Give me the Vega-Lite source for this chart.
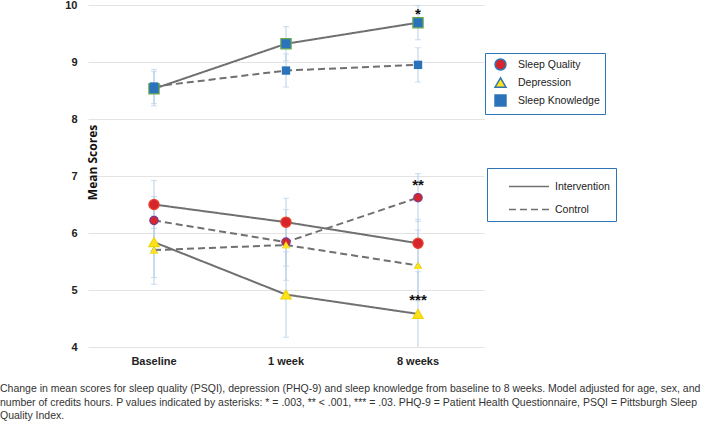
{
  "$schema": "https://vega.github.io/schema/vega-lite/v6.json",
  "width": 396,
  "height": 342,
  "autosize": {"type": "none"},
  "padding": {"left": 88, "top": 5, "right": 219, "bottom": 75},
  "background": "white",
  "title": {
    "text": [
      "Change in mean scores for sleep quality (PSQI), depression (PHQ-9) and sleep knowledge from baseline to 8 weeks. Model adjusted for age, sex, and",
      "number of credits hours. P values indicated by asterisks: * = .003, ** < .001, *** = .03. PHQ-9 = Patient Health Questionnaire, PSQI = Pittsburgh Sleep",
      "Quality Index."
    ],
    "orient": "bottom",
    "anchor": "start",
    "frame": "group",
    "dx": -88,
    "offset": 18,
    "font": "Liberation Sans",
    "fontSize": 10.5,
    "fontWeight": "normal",
    "color": "#333333",
    "lineHeight": 13.5
  },
  "datasets": {
    "scores": [
      {"measure": "Sleep Quality", "group": "Intervention", "time": "Baseline", "mean": 6.50, "lo": 6.08, "hi": 6.92},
      {"measure": "Sleep Quality", "group": "Intervention", "time": "1 week", "mean": 6.19, "lo": 5.77, "hi": 6.61},
      {"measure": "Sleep Quality", "group": "Intervention", "time": "8 weeks", "mean": 5.82, "lo": 5.40, "hi": 6.24},
      {"measure": "Sleep Quality", "group": "Control", "time": "Baseline", "mean": 6.22, "lo": 5.80, "hi": 6.64},
      {"measure": "Sleep Quality", "group": "Control", "time": "1 week", "mean": 5.84, "lo": 5.42, "hi": 6.26},
      {"measure": "Sleep Quality", "group": "Control", "time": "8 weeks", "mean": 6.62, "lo": 6.20, "hi": 7.04},
      {"measure": "Depression", "group": "Intervention", "time": "Baseline", "mean": 5.84, "lo": 5.22, "hi": 6.46},
      {"measure": "Depression", "group": "Intervention", "time": "1 week", "mean": 4.92, "lo": 4.17, "hi": 5.67},
      {"measure": "Depression", "group": "Intervention", "time": "8 weeks", "mean": 4.58, "lo": 3.84, "hi": 5.32},
      {"measure": "Depression", "group": "Control", "time": "Baseline", "mean": 5.70, "lo": 5.10, "hi": 6.30},
      {"measure": "Depression", "group": "Control", "time": "1 week", "mean": 5.79, "lo": 5.17, "hi": 6.41},
      {"measure": "Depression", "group": "Control", "time": "8 weeks", "mean": 5.43, "lo": 4.81, "hi": 6.05},
      {"measure": "Sleep Knowledge", "group": "Intervention", "time": "Baseline", "mean": 8.53, "lo": 8.23, "hi": 8.83},
      {"measure": "Sleep Knowledge", "group": "Intervention", "time": "1 week", "mean": 9.32, "lo": 9.02, "hi": 9.62},
      {"measure": "Sleep Knowledge", "group": "Intervention", "time": "8 weeks", "mean": 9.69, "lo": 9.39, "hi": 9.99},
      {"measure": "Sleep Knowledge", "group": "Control", "time": "Baseline", "mean": 8.57, "lo": 8.27, "hi": 8.87},
      {"measure": "Sleep Knowledge", "group": "Control", "time": "1 week", "mean": 8.85, "lo": 8.56, "hi": 9.14},
      {"measure": "Sleep Knowledge", "group": "Control", "time": "8 weeks", "mean": 8.95, "lo": 8.65, "hi": 9.25}
    ],
    "stars": [
      {"time": "8 weeks", "value": 9.9, "label": "*"},
      {"time": "8 weeks", "value": 6.9, "label": "**"},
      {"time": "8 weeks", "value": 4.88, "label": "***"}
    ]
  },
  "encoding": {
    "x": {"field": "time", "type": "ordinal", "sort": ["Baseline", "1 week", "8 weeks"], "title": null}
  },
  "layer": [
    {
      "data": {"name": "scores"},
      "mark": {"type": "rule", "color": "#b8cfe8", "strokeWidth": 1, "clip": true},
      "encoding": {
        "y": {"field": "lo", "type": "quantitative", "title": "Mean Scores", "scale": {"domain": [4, 10], "nice": false, "zero": false}, "axis": {"values": [4, 5, 6, 7, 8, 9, 10], "format": "d"}},
        "y2": {"field": "hi"}
      }
    },
    {
      "data": {"name": "scores"},
      "mark": {"type": "tick", "color": "#b8cfe8", "thickness": 1, "size": 6, "clip": true},
      "encoding": {
        "y": {"field": "lo", "type": "quantitative", "title": "Mean Scores"}
      }
    },
    {
      "data": {"name": "scores"},
      "mark": {"type": "tick", "color": "#b8cfe8", "thickness": 1, "size": 6, "clip": true},
      "encoding": {
        "y": {"field": "hi", "type": "quantitative", "title": "Mean Scores"}
      }
    },
    {
      "data": {"name": "scores"},
      "mark": {"type": "line", "color": "#707070", "strokeWidth": 2},
      "encoding": {
        "y": {"field": "mean", "type": "quantitative", "title": "Mean Scores"},
        "detail": {"field": "measure"},
        "strokeDash": {
          "field": "group",
          "type": "nominal",
          "scale": {"domain": ["Intervention", "Control"], "range": [[1, 0], [7, 4]]},
          "legend": {
            "title": null,
            "orient": "none",
            "legendX": 399,
            "legendY": 163,
            "padding": 6,
            "strokeColor": "#2e75b6",
            "fillColor": "white",
            "symbolType": "M0.3,0H3.78",
            "symbolSize": 529,
            "symbolStrokeWidth": 1.5,
            "labelOffset": 37,
            "rowPadding": 5,
            "labelExpr": "datum.label + '            '",
            "labelFont": "Liberation Sans",
            "labelFontSize": 10.5,
            "labelColor": "#222222",
            "encode": {"legend": {"strokeWidth": {"value": 2}}}
          }
        }
      }
    },
    {
      "data": {"name": "scores"},
      "mark": {"type": "point", "filled": true, "size": 30, "stroke": "#2e75b6", "strokeWidth": 1.5, "strokeJoin": "round", "opacity": 1},
      "encoding": {
        "y": {"field": "mean", "type": "quantitative", "title": "Mean Scores"},
        "shape": {
          "field": "measure", "type": "nominal",
          "scale": {"domain": ["Sleep Quality", "Depression", "Sleep Knowledge"], "range": ["circle", "triangle-up", "square"]},
          "legend": {"title": null, "orient": "none", "legendX": 397, "legendY": 48, "padding": 5, "rowPadding": 1, "symbolOffset": 4, "labelOffset": 11, "labelFontSize": 10.5, "symbolSize": 120, "symbolStrokeWidth": 1.5, "encode": {"legend": {"strokeWidth": {"value": 2}}}}
        },
        "fill": {
          "field": "measure", "type": "nominal",
          "scale": {"domain": ["Sleep Quality", "Depression", "Sleep Knowledge"], "range": ["#d7262b", "#ffe21a", "#2a73bb"]},
          "legend": {"title": null, "orient": "none", "legendX": 397, "legendY": 48, "padding": 5, "rowPadding": 1, "symbolOffset": 4, "labelOffset": 11, "labelFontSize": 10.5, "symbolSize": 120, "symbolStrokeWidth": 1.5, "encode": {"legend": {"strokeWidth": {"value": 2}}}}
        }
      }
    },
    {
      "data": {"name": "scores"},
      "transform": [{"filter": "datum.group === 'Intervention'"}],
      "mark": {"type": "point", "filled": true, "size": 105, "strokeWidth": 1.2, "opacity": 1},
      "encoding": {
        "y": {"field": "mean", "type": "quantitative", "title": "Mean Scores"},
        "shape": {"field": "measure", "type": "nominal", "legend": null},
        "fill": {"field": "measure", "type": "nominal", "legend": null},
        "stroke": {
          "condition": [
            {"test": "datum.measure === 'Sleep Quality'", "value": "#e8452c"},
            {"test": "datum.measure === 'Sleep Knowledge'", "value": "#6aa84f"}
          ],
          "value": "#f0d400"
        }
      }
    },
    {
      "data": {"name": "scores"},
      "transform": [{"filter": "datum.group === 'Control'"}],
      "mark": {"type": "point", "filled": true, "size": 70, "strokeWidth": 1.2, "opacity": 1},
      "encoding": {
        "y": {"field": "mean", "type": "quantitative", "title": "Mean Scores"},
        "shape": {"field": "measure", "type": "nominal", "legend": null},
        "fill": {"field": "measure", "type": "nominal", "legend": null},
        "stroke": {"condition": {"test": "datum.measure === 'Sleep Quality'", "value": "#7a3a8c"}, "value": "transparent"}
      }
    },
    {
      "data": {"name": "stars"},
      "mark": {"type": "text", "font": "Liberation Sans", "fontSize": 15, "fontWeight": "bold", "color": "#111111", "baseline": "middle", "dy": 3},
      "encoding": {
        "y": {"field": "value", "type": "quantitative", "title": "Mean Scores"},
        "text": {"field": "label"}
      }
    }
  ],
  "config": {
    "view": {"stroke": null},
    "axis": {
      "labelFont": "Liberation Sans",
      "labelFontWeight": "bold",
      "labelFontSize": 11,
      "labelColor": "#222222",
      "domain": false,
      "ticks": false,
      "gridColor": "#e3e3e3",
      "gridWidth": 1
    },
    "axisY": {
      "grid": true,
      "labelPadding": 11,
      "titleFont": "Open Sans",
      "titleFontSize": 12,
      "titleFontWeight": "bold",
      "titleColor": "#111111",
      "titleAngle": -90,
      "titleX": 11,
      "titleY": 157,
      "titleAlign": "center",
      "titleBaseline": "bottom"
    },
    "axisX": {"grid": false, "labelAngle": 0, "labelPadding": 8},
    "legend": {
      "padding": 10,
      "strokeColor": "#2e75b6",
      "fillColor": "white",
      "labelFont": "Liberation Sans",
      "labelFontSize": 11,
      "labelColor": "#222222",
      "symbolSize": 120,
      "rowPadding": 4,
      "labelOffset": 9
    }
  }
}
